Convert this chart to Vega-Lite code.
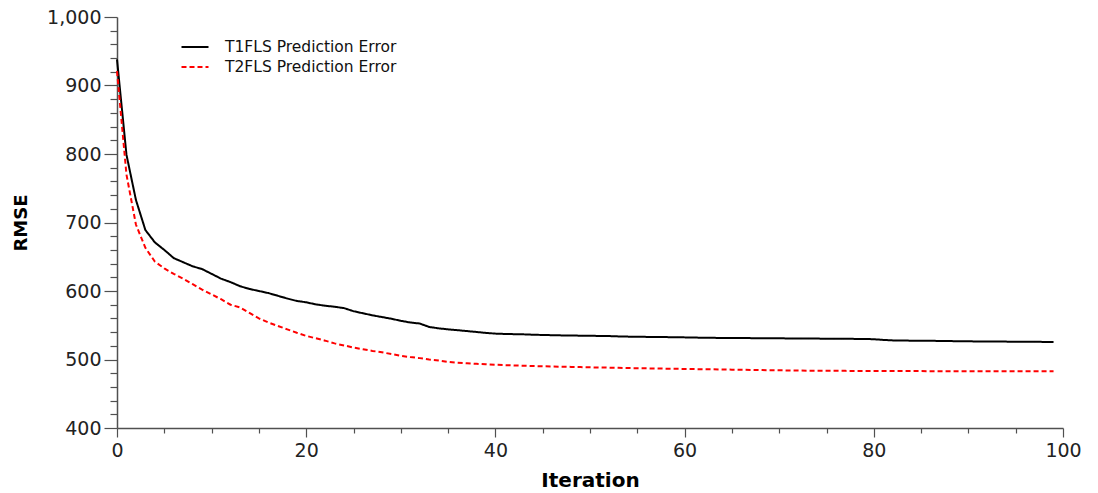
{
  "$schema": "https://vega.github.io/schema/vega-lite/v6.json",
  "autosize": {"type": "none"},
  "padding": {"left": 117, "top": 17, "right": 35, "bottom": 65},
  "width": 946,
  "height": 411,
  "background": "white",
  "config": {
    "view": {"stroke": null},
    "font": "DejaVu Sans",
    "axis": {
      "grid": false,
      "domainColor": "#505050",
      "domainWidth": 1.5,
      "tickColor": "#505050",
      "tickWidth": 1.2,
      "labelColor": "#222222",
      "labelFont": "DejaVu Sans",
      "labelFontSize": 19,
      "labelFlush": false,
      "titleFont": "DejaVu Sans",
      "titleFontSize": 20,
      "titleFontWeight": "bold",
      "titleColor": "#000000"
    }
  },
  "data": {
    "values": [
      {"i":0,"T1":938,"T2":921},{"i":1,"T1":799,"T2":770},{"i":2,"T1":733,"T2":697},{"i":3,"T1":689,"T2":663},{"i":4,"T1":671,"T2":643},
      {"i":5,"T1":660,"T2":633},{"i":6,"T1":648,"T2":625},{"i":7,"T1":642,"T2":618},{"i":8,"T1":636,"T2":610},{"i":9,"T1":632,"T2":602},
      {"i":10,"T1":625,"T2":595},{"i":11,"T1":618,"T2":588},{"i":12,"T1":613,"T2":580},{"i":13,"T1":607,"T2":576},{"i":14,"T1":603,"T2":568},
      {"i":15,"T1":600,"T2":560},{"i":16,"T1":597,"T2":554},{"i":17,"T1":593,"T2":549},{"i":18,"T1":589,"T2":544},{"i":19,"T1":585.5,"T2":539},
      {"i":20,"T1":583.5,"T2":534.5},{"i":21,"T1":580.5,"T2":531},{"i":22,"T1":578.5,"T2":527.5},{"i":23,"T1":577,"T2":523.5},{"i":24,"T1":575,"T2":520.5},
      {"i":25,"T1":570.5,"T2":517.5},{"i":26,"T1":567.5,"T2":515},{"i":27,"T1":564.5,"T2":512.5},{"i":28,"T1":562,"T2":510.5},{"i":29,"T1":559.5,"T2":508},
      {"i":30,"T1":556.5,"T2":505.5},{"i":31,"T1":554,"T2":503.5},{"i":32,"T1":552.5,"T2":502},{"i":33,"T1":547.5,"T2":500},{"i":34,"T1":545.5,"T2":498.5},
      {"i":35,"T1":544,"T2":496.5},{"i":36,"T1":542.8,"T2":495.3},{"i":37,"T1":541.5,"T2":494.5},{"i":38,"T1":540.2,"T2":493.7},{"i":39,"T1":538.8,"T2":493},
      {"i":40,"T1":537.8,"T2":492.3},{"i":41,"T1":537.3,"T2":491.8},{"i":42,"T1":537,"T2":491.3},{"i":43,"T1":536.7,"T2":490.9},{"i":44,"T1":536.2,"T2":490.5},
      {"i":45,"T1":535.8,"T2":490.1},{"i":46,"T1":535.5,"T2":489.8},{"i":47,"T1":535.2,"T2":489.5},{"i":48,"T1":535,"T2":489.2},{"i":49,"T1":534.8,"T2":488.9},
      {"i":50,"T1":534.6,"T2":488.6},{"i":51,"T1":534.4,"T2":488.3},{"i":52,"T1":534.2,"T2":488.1},{"i":53,"T1":533.7,"T2":487.8},{"i":54,"T1":533.4,"T2":487.5},
      {"i":55,"T1":533.2,"T2":487.3},{"i":56,"T1":533,"T2":487.1},{"i":57,"T1":532.9,"T2":486.9},{"i":58,"T1":532.7,"T2":486.6},{"i":59,"T1":532.5,"T2":486.4},
      {"i":60,"T1":532.3,"T2":486.2},{"i":61,"T1":532,"T2":486},{"i":62,"T1":531.8,"T2":485.8},{"i":63,"T1":531.6,"T2":485.6},{"i":64,"T1":531.5,"T2":485.4},
      {"i":65,"T1":531.4,"T2":485.2},{"i":66,"T1":531.3,"T2":485},{"i":67,"T1":531.2,"T2":484.8},{"i":68,"T1":531.1,"T2":484.6},{"i":69,"T1":531,"T2":484.4},
      {"i":70,"T1":530.9,"T2":484.2},{"i":71,"T1":530.8,"T2":484},{"i":72,"T1":530.7,"T2":483.8},{"i":73,"T1":530.6,"T2":483.7},{"i":74,"T1":530.5,"T2":483.6},
      {"i":75,"T1":530.4,"T2":483.5},{"i":76,"T1":530.3,"T2":483.45},{"i":77,"T1":530.2,"T2":483.4},{"i":78,"T1":530.1,"T2":483.35},{"i":79,"T1":530,"T2":483.3},
      {"i":80,"T1":529.6,"T2":483.25},{"i":81,"T1":528.6,"T2":483.2},{"i":82,"T1":527.9,"T2":483.15},{"i":83,"T1":527.7,"T2":483.1},{"i":84,"T1":527.5,"T2":483.1},
      {"i":85,"T1":527.4,"T2":483.05},{"i":86,"T1":527.3,"T2":483},{"i":87,"T1":527.1,"T2":483},{"i":88,"T1":526.9,"T2":482.95},{"i":89,"T1":526.7,"T2":482.95},
      {"i":90,"T1":526.5,"T2":482.9},{"i":91,"T1":526.4,"T2":482.9},{"i":92,"T1":526.3,"T2":482.9},{"i":93,"T1":526.2,"T2":482.85},{"i":94,"T1":526.1,"T2":482.85},
      {"i":95,"T1":526,"T2":482.85},{"i":96,"T1":525.9,"T2":482.8},{"i":97,"T1":525.8,"T2":482.8},{"i":98,"T1":525.7,"T2":482.8},{"i":99,"T1":525.6,"T2":482.8}
    ]
  },
  "transform": [{"fold": ["T1", "T2"], "as": ["series", "rmse"]}],
  "layer": [
    {
      "mark": {"type": "line", "strokeWidth": 2},
      "encoding": {
        "x": {
          "field": "i", "type": "quantitative",
          "scale": {"domain": [0, 100], "nice": false},
          "axis": {"orient": "bottom", "values": [0, 20, 40, 60, 80, 100], "tickSize": 9, "labelPadding": 4, "title": "Iteration", "titlePadding": 10}
        },
        "y": {
          "field": "rmse", "type": "quantitative",
          "scale": {"domain": [400, 1000], "nice": false, "zero": false},
          "axis": {"orient": "left", "values": [400, 500, 600, 700, 800, 900, 1000], "tickSize": 13, "labelPadding": 3, "title": "RMSE", "titleFontSize": 18, "titlePadding": 16}
        },
        "color": {
          "field": "series", "type": "nominal",
          "scale": {"domain": ["T1", "T2"], "range": ["#000000", "#ff0000"]},
          "legend": {
            "orient": "none", "legendX": 67, "legendY": 19,
            "title": null,
            "symbolType": "M-1.35,0H1.35", "symbolSize": 400, "symbolStrokeWidth": 2,
            "labelFont": "DejaVu Sans", "labelFontSize": 15.5, "labelColor": "#111111",
            "labelOffset": 19, "rowPadding": 0, "labelLimit": 0,
            "labelExpr": "datum.label == 'T1' ? 'T1FLS Prediction Error' : 'T2FLS Prediction Error'"
          }
        },
        "strokeDash": {
          "field": "series", "type": "nominal",
          "scale": {"domain": ["T1", "T2"], "range": [[1, 0], [5, 3]]},
          "legend": {
            "orient": "none", "legendX": 67, "legendY": 19,
            "title": null,
            "symbolType": "M-1.35,0H1.35", "symbolSize": 400, "symbolStrokeWidth": 2,
            "labelFont": "DejaVu Sans", "labelFontSize": 15.5, "labelColor": "#111111",
            "labelOffset": 19, "rowPadding": 0, "labelLimit": 0,
            "labelExpr": "datum.label == 'T1' ? 'T1FLS Prediction Error' : 'T2FLS Prediction Error'"
          }
        }
      }
    },
    {
      "mark": {"type": "line", "opacity": 0},
      "encoding": {
        "x": {
          "field": "i", "type": "quantitative",
          "axis": {"orient": "bottom", "values": [5, 10, 15, 25, 30, 35, 45, 50, 55, 65, 70, 75, 85, 90, 95], "tickSize": 5, "labels": false, "domain": false, "title": null}
        },
        "y": {
          "field": "rmse", "type": "quantitative",
          "axis": {"orient": "left", "values": [420, 440, 460, 480, 520, 540, 560, 580, 620, 640, 660, 680, 720, 740, 760, 780, 820, 840, 860, 880, 920, 940, 960, 980], "tickSize": 7, "labels": false, "domain": false, "title": null}
        },
        "detail": {"field": "series", "type": "nominal"}
      }
    }
  ],
  "resolve": {"axis": {"x": "independent", "y": "independent"}}
}
